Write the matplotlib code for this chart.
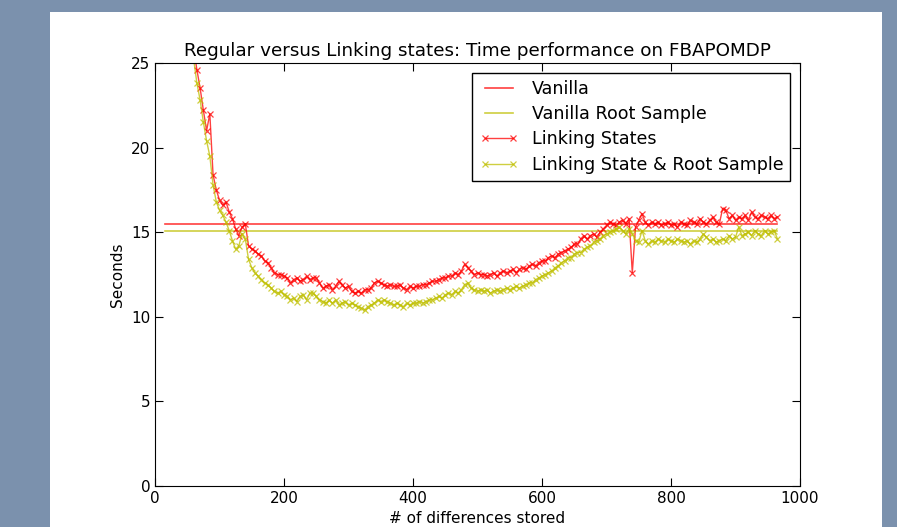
"""
Regular versus Linking states timing chart
"""

import matplotlib

matplotlib.use("Agg")

import matplotlib.pyplot as plt
from matplotlib.patches import Rectangle


DIFFS_STORED = list(range(60, 970, 5))

VANILLA = 15.5
VANILLA_ROOT = 15.05

LINKING = [
    25.8, 24.6, 23.5, 22.2, 21.0, 22.0, 18.4, 17.5, 16.9, 16.6,
    16.8, 16.2, 15.8, 15.2, 14.8, 15.3, 15.5, 14.2, 14.0, 13.9,
    13.7, 13.6, 13.3, 13.2, 12.9, 12.6, 12.5, 12.5, 12.4, 12.3,
    12.0, 12.2, 12.3, 12.1, 12.2, 12.4, 12.2, 12.3, 12.3, 12.0,
    11.7, 11.8, 11.9, 11.6, 11.8, 12.1, 11.9, 11.7, 11.8, 11.5,
    11.4, 11.5, 11.4, 11.6, 11.6, 11.7, 12.0, 12.1, 12.0, 11.9,
    11.8, 11.9, 11.8, 11.8, 11.9, 11.7, 11.6, 11.8, 11.7, 11.8,
    11.8, 11.9, 11.9, 12.0, 12.1, 12.1, 12.2, 12.3, 12.3, 12.4,
    12.4, 12.6, 12.5, 12.7, 13.1, 12.9, 12.7, 12.5, 12.6, 12.5,
    12.5, 12.4, 12.5, 12.6, 12.4, 12.6, 12.7, 12.6, 12.7, 12.8,
    12.6, 12.8, 12.9, 12.8, 13.0, 13.1, 13.0, 13.2, 13.3, 13.3,
    13.5, 13.6, 13.5, 13.7, 13.8, 13.9, 14.0, 14.1, 14.3, 14.3,
    14.6, 14.8, 14.6, 14.8, 14.9, 14.7, 15.0, 15.2, 15.4, 15.6,
    15.5, 15.4, 15.6, 15.7, 15.5, 15.8, 12.6, 15.3, 15.7, 16.1,
    15.6, 15.4, 15.6, 15.5, 15.6, 15.4, 15.5, 15.6, 15.4, 15.5,
    15.3, 15.6, 15.5, 15.4, 15.7, 15.6, 15.5, 15.8, 15.6, 15.5,
    15.7, 15.9, 15.6, 15.5, 16.4, 16.3, 15.8, 16.0, 15.7, 15.9,
    15.8, 16.0, 15.7, 16.2, 15.9, 15.8, 16.0, 15.9, 15.8, 16.0,
    15.8, 15.9,
]

LINKING_ROOT = [
    25.2, 23.8, 22.8, 21.5, 20.4, 19.5, 17.8, 16.8, 16.3, 16.0,
    15.6, 15.1, 14.5, 14.0, 14.2, 14.9, 14.6, 13.4, 12.9, 12.6,
    12.4, 12.2, 12.0, 11.9, 11.7, 11.5, 11.4, 11.5, 11.3, 11.2,
    11.0, 11.1, 10.9, 11.2, 11.3, 11.0, 11.4, 11.4, 11.2, 11.0,
    10.9, 10.8, 11.0, 10.8, 11.0, 10.7, 10.8, 10.9, 10.7, 10.8,
    10.7, 10.6, 10.5, 10.4, 10.6, 10.7, 10.8, 11.0, 10.9, 11.0,
    10.9, 10.8, 10.7, 10.8, 10.7, 10.6, 10.8, 10.7, 10.8, 10.8,
    10.9, 10.8, 10.9, 11.0, 11.0, 11.1, 11.2, 11.1, 11.3, 11.4,
    11.3, 11.5, 11.4, 11.6, 11.9, 12.0, 11.7, 11.6, 11.5, 11.6,
    11.5, 11.6, 11.4, 11.5, 11.6, 11.5, 11.6, 11.7, 11.6, 11.7,
    11.8, 11.7, 11.8, 11.9, 12.0, 12.0, 12.2, 12.3, 12.4, 12.5,
    12.6, 12.7, 12.9, 13.0, 13.2, 13.3, 13.5, 13.5, 13.7, 13.8,
    13.8, 14.0, 14.1, 14.2, 14.4, 14.5, 14.6, 14.8, 14.9, 15.0,
    15.1, 15.2, 15.3, 15.1, 14.9, 15.2, 14.9, 14.5, 14.4, 15.1,
    14.5, 14.3, 14.5, 14.4, 14.6, 14.5, 14.4, 14.6, 14.5, 14.4,
    14.6, 14.5, 14.4, 14.5, 14.3, 14.5, 14.4, 14.6, 14.9, 14.7,
    14.5, 14.6, 14.4, 14.5, 14.6, 14.5, 14.8, 14.6, 14.7, 15.3,
    14.8, 14.9, 15.0, 14.8, 15.1, 14.9, 14.8, 15.1, 14.9, 15.0,
    15.1, 14.6,
]


def main():
    fig = plt.figure(figsize=(8.97, 5.27), dpi=100, facecolor="#7b91ad")
    fig.patches.append(
        Rectangle((50 / 897, 0), 832 / 897, 515 / 527,
                  transform=fig.transFigure, facecolor="white",
                  edgecolor="none", zorder=-10)
    )

    ax = fig.add_axes([155 / 897, 41 / 527, 645 / 897, 423 / 527])

    ax.plot([DIFFS_STORED[0] - 45, DIFFS_STORED[-1]], [VANILLA, VANILLA],
            color="red", alpha=0.75, lw=1.2, label="Vanilla")
    ax.plot([DIFFS_STORED[0] - 45, DIFFS_STORED[-1]], [VANILLA_ROOT, VANILLA_ROOT],
            color="#bfbf00", alpha=0.75, lw=1.2, label="Vanilla Root Sample")
    ax.plot(DIFFS_STORED, LINKING, color="red", marker="x", ms=5, mew=0.9,
            alpha=0.75, lw=1.0, label="Linking States")
    ax.plot(DIFFS_STORED, LINKING_ROOT, color="#bfbf00", marker="x", ms=5,
            mew=0.9, alpha=0.75, lw=1.0, label="Linking State & Root Sample")

    ax.set_xlim(0, 1000)
    ax.set_ylim(0, 25)
    ax.set_xticks([0, 200, 400, 600, 800, 1000])
    ax.set_yticks([0, 5, 10, 15, 20, 25])
    ax.tick_params(direction="in", top=True, right=True, length=6,
                   labelsize=11)
    ax.set_title("Regular versus Linking states: Time performance on FBAPOMDP",
                 fontsize=13.2, pad=5)
    ax.set_xlabel("# of differences stored", fontsize=11)
    ax.set_ylabel("Seconds", fontsize=11)

    leg = ax.legend(loc="upper right", numpoints=2, fontsize=12.6,
                    fancybox=False, framealpha=1, borderaxespad=0.55,
                    labelspacing=0.42, handlelength=2.2)
    leg.get_frame().set_edgecolor("black")

    fig.savefig("out.png", dpi=100, facecolor=fig.get_facecolor())
    plt.close(fig)


if __name__ == "__main__":
    main()
